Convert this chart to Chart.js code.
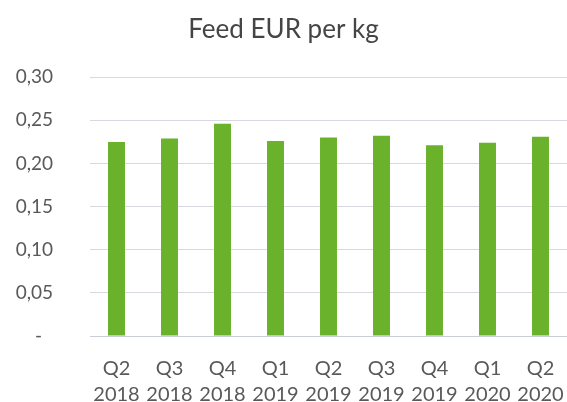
<!DOCTYPE html>
<html>
<head>
<meta charset="utf-8">
<script src="https://cdn.jsdelivr.net/npm/chart.js@4"></script>
<style>
  html, body { margin: 0; padding: 0; background: #fff; }
  #wrap { width: 567px; height: 402px; }
</style>
</head>
<body>
<div id="wrap"><canvas id="chart"></canvas></div>
<script>
const quarters = ["Q2", "Q3", "Q4", "Q1", "Q2", "Q3", "Q4", "Q1", "Q2"]
const years = ["2018", "2018", "2018", "2019", "2019", "2019", "2019", "2020", "2020"]
const feedEurPerKg = [0.225, 0.229, 0.246, 0.226, 0.230, 0.232, 0.221, 0.224, 0.231]
const yTicks = [0, 0.05, 0.10, 0.15, 0.20, 0.25, 0.30]

const labels = quarters.map((q, i) => [q, years[i]])
const textColor = '#595959'
const gridColor = '#d6d9e0'

new Chart(document.getElementById('chart'), {
    type: 'bar',
    data: {
        labels: labels,
        datasets: [{
            label: 'Feed EUR per kg',
            data: feedEurPerKg,
            backgroundColor: '#6ab22c',
            categoryPercentage: 1,
            barPercentage: 0.32
        }]
    },
    options: {
        responsive: true,
        maintainAspectRatio: false,
        animation: false,
        layout: { padding: 0 },
        plugins: {
            legend: { display: false },
            tooltip: { enabled: false },
            title: {
                display: true,
                text: 'Feed EUR per kg',
                color: '#454545',
                font: { family: 'Lato', size: 26, weight: 'normal', lineHeight: 1.2 },
                padding: { top: 14, bottom: 32 }
            }
        },
        scales: {
            x: {
                afterFit: (scale) => {
                    scale.height = 66
                    scale.paddingLeft = 0
                    scale.paddingRight = 0
                },
                grid: { display: false },
                border: { display: true, color: '#c9cdd8', width: 1 },
                ticks: {
                    color: textColor,
                    font: { family: 'Lato', size: 20, lineHeight: 1.3 },
                    padding: 12,
                    maxRotation: 0,
                    autoSkip: false
                }
            },
            y: {
                min: 0,
                max: 0.30,
                afterFit: (scale) => { scale.width = 90 },
                afterBuildTicks: (scale) => { scale.ticks = yTicks.map(v => ({ value: v })) },
                grid: { color: gridColor, drawTicks: false, lineWidth: 1 },
                border: { display: false },
                ticks: {
                    color: textColor,
                    font: { family: 'Lato', size: 19 },
                    padding: 37,
                    callback: (v) => v === 0 ? '-\u2007' : v.toFixed(2).replace('.', ',')
                }
            }
        }
    }
})
</script>
</body>
</html>
